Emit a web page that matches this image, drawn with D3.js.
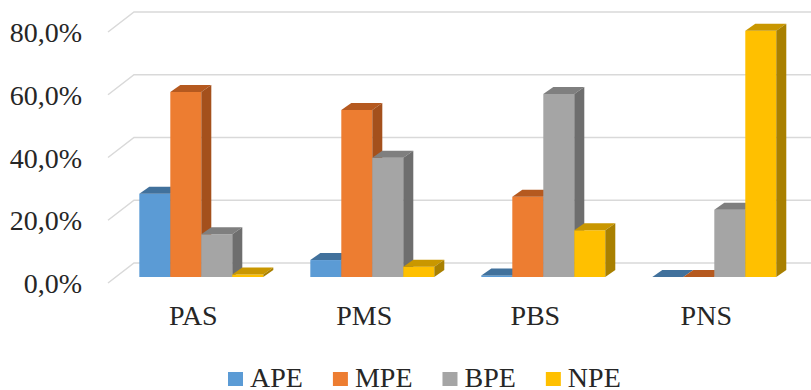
<!DOCTYPE html>
<html>
<head>
<meta charset="utf-8">
<script src="https://cdn.jsdelivr.net/npm/d3@7"></script>
<style>
  html, body { margin: 0; padding: 0; background: #fff; }
  svg { display: block; }
  text { fill: #262626; }
</style>
</head>
<body>
<svg id="chart" width="811" height="390" font-family="'Liberation Serif', 'Times New Roman', Tinos, serif"></svg>
<script>
// Share of each profile type within each group (percent)
const categories = ["PAS", "PMS", "PBS", "PNS"];
const seriesNames = ["APE", "MPE", "BPE", "NPE"];
const apeValues = [26.5, 5.4, 0.5, 0.0];
const mpeValues = [59.0, 53.2, 25.6, 0.0];
const bpeValues = [13.6, 38.0, 58.3, 21.4];
const npeValues = [0.8, 3.3, 14.9, 78.5];
const tickValues = [0, 20, 40, 60, 80];
const tickLabels = ["0,0%", "20,0%", "40,0%", "60,0%", "80,0%"];

const seriesValues = [apeValues, mpeValues, bpeValues, npeValues];

// Face colours: front, top, side
const palette = [
  { front: "#5b9bd5", top: "#41719c", side: "#3d6b94" },
  { front: "#ed7d31", top: "#b5591f", side: "#a4501c" },
  { front: "#a5a5a5", top: "#7f7f7f", side: "#6e6e6e" },
  { front: "#ffc000", top: "#c99700", side: "#a98000" }
];

const svg = d3.select("#chart");
const serif = "'Liberation Serif', 'Times New Roman', Tinos, serif";

// Oblique projection of the 3D columns
const barDepth = { dx: 10, dy: -7 };     // column depth offset
const wallDepth = { dx: 26, dy: -20 };   // floor front edge to back wall
const wallLeft = 134;
const wallRight = 811;

// Value scale on the back wall
const y = d3.scaleLinear().domain([0, 80]).range([263, 12]);
// Column front faces sit in front of the wall
const frontShift = 14;
const yFront = v => y(v) + frontShift;

const x0 = d3.scaleBand()
  .domain(categories)
  .range([115.8, 115.8 + 4 * 171])
  .paddingInner(0.275)
  .paddingOuter(0.1375);

const x1 = d3.scaleBand()
  .domain(seriesNames)
  .range([0, x0.bandwidth()])
  .padding(0);

// Back wall gridlines with the side-wall diagonal
const grid = svg.append("g").attr("class", "grid");
tickValues.forEach(t => {
  const gy = y(t);
  grid.append("path")
    .attr("d", `M${wallLeft - wallDepth.dx},${gy - wallDepth.dy} L${wallLeft},${gy} L${wallRight},${gy}`)
    .attr("fill", "none")
    .attr("stroke", "#d9d9d9")
    .attr("stroke-width", 1.5);
});

// Value axis labels, aligned with the front end of each diagonal
const yAxis = svg.append("g").attr("class", "y-axis");
tickValues.forEach((t, i) => {
  yAxis.append("text")
    .attr("x", 82)
    .attr("y", y(t) - wallDepth.dy + 10)
    .attr("text-anchor", "end")
    .attr("font-family", serif)
    .attr("font-size", 28)
    .text(tickLabels[i]);
});

// Columns, drawn left to right so each column covers the side of its neighbour
const bars = svg.append("g").attr("class", "bars");
categories.forEach((cat, ci) => {
  seriesNames.forEach((s, si) => {
    const v = seriesValues[si][ci];
    const xl = x0(cat) + x1(s);
    const xr = xl + x1.bandwidth();
    const yt = yFront(v);
    const yb = yFront(0);
    const c = palette[si];
    const g = bars.append("g");
    // front face
    g.append("path")
      .attr("d", `M${xl},${yb} L${xl},${yt} L${xr},${yt} L${xr},${yb} Z`)
      .attr("fill", c.front);
    // top face
    g.append("path")
      .attr("d", `M${xl},${yt} L${xl + barDepth.dx},${yt + barDepth.dy} L${xr + barDepth.dx},${yt + barDepth.dy} L${xr},${yt} Z`)
      .attr("fill", c.top);
    // right side face
    g.append("path")
      .attr("d", `M${xr},${yt} L${xr + barDepth.dx},${yt + barDepth.dy} L${xr + barDepth.dx},${yb + barDepth.dy} L${xr},${yb} Z`)
      .attr("fill", c.side);
  });
});

// Category labels
const xAxis = svg.append("g").attr("class", "x-axis");
categories.forEach(cat => {
  xAxis.append("text")
    .attr("x", x0(cat) + x0.bandwidth() / 2 - 8)
    .attr("y", 325)
    .attr("text-anchor", "middle")
    .attr("font-family", serif)
    .attr("font-size", 28)
    .text(cat);
});

// Legend
const legend = svg.append("g").attr("class", "legend");
let lx = 228;
seriesNames.forEach((s, si) => {
  legend.append("rect")
    .attr("x", lx)
    .attr("y", 372)
    .attr("width", 15)
    .attr("height", 14)
    .attr("fill", palette[si].front);
  const t = legend.append("text")
    .attr("x", lx + 22)
    .attr("y", 387)
    .attr("font-family", serif)
    .attr("font-size", 28)
    .text(s);
  lx += 22 + t.node().getComputedTextLength() + 30;
});
</script>
</body>
</html>
